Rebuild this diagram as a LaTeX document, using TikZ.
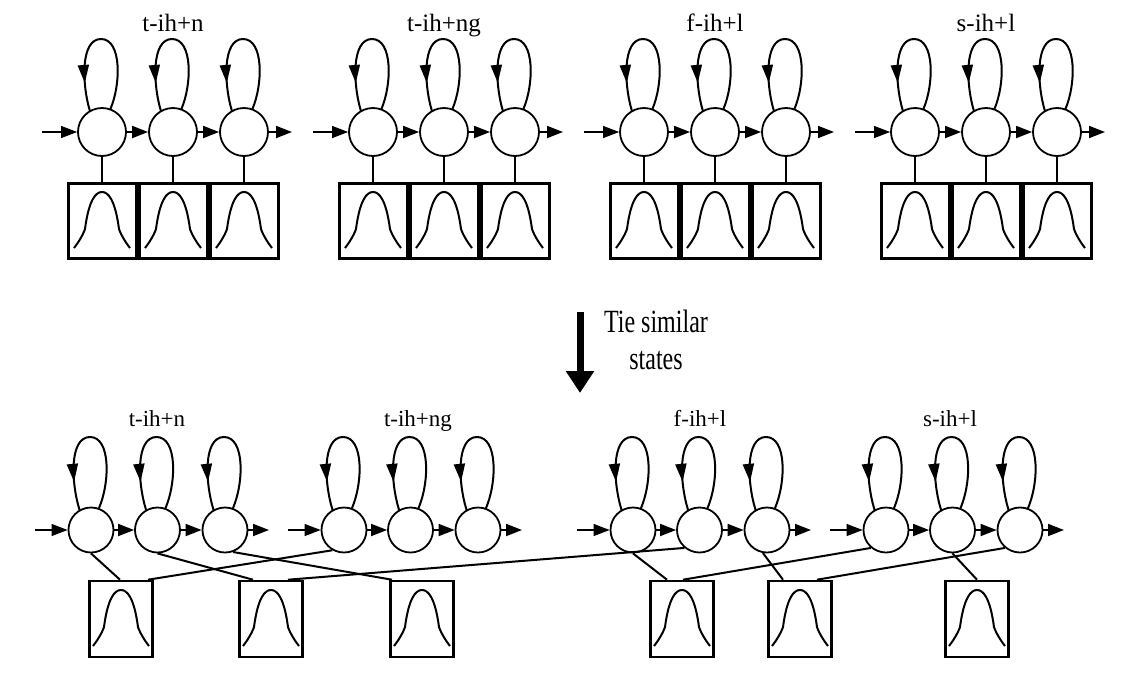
\documentclass[tikz,border=0pt]{standalone}
\usepackage{graphicx}
\usepackage{fontspec}
\setmainfont{Liberation Serif}
\usetikzlibrary{arrows.meta, decorations.markings}

\newcommand{\selfloop}[2]{%
  \draw[lp, shift={(#1.center)}] (70:#2) .. controls (19,47) and (20,93) .. (-1,93)
    .. controls (-22,93) and (-20,47) .. (120:#2);}
\newcommand{\bell}[1]{%
  \draw[bl, shift={(#1.center)}] (-28,-27) .. controls (-24,-22) and (-19,-14) .. (-17,-8)
    .. controls (-13,22) and (-6,29) .. (0,29) .. controls (6,29) and (13,22) .. (17,-8)
    .. controls (19,-14) and (24,-22) .. (28,-27);}

\begin{document}
\begin{tikzpicture}[x=1pt, y=1pt,
  st/.style={draw, circle, line width=1.8pt, minimum size=48pt, inner sep=0pt, fill=white},
  sts/.style={st, minimum size=45pt},
  bx/.style={draw, line width=3pt, minimum width=68pt, minimum height=75pt, inner sep=0pt},
  bxs/.style={bx, line width=2.6pt, minimum width=63pt, minimum height=76pt},
  arr/.style={-{Triangle[length=16pt, width=12pt]}, line width=1.8pt},
  inarr/.style={arr, line width=1.1pt},
  lp/.style={line width=2pt, postaction={decorate},
    decoration={markings, mark=at position 0.82 with {\arrow{Triangle[length=18pt, width=11pt]}}}},
  tie/.style={line width=2pt},
  bl/.style={line width=2pt, line join=round},
  lbl/.style={font=\fontsize{25}{30}\selectfont, anchor=base},
  lbls/.style={font=\fontsize{23}{28}\selectfont, anchor=base},
]
\useasboundingbox (0,0) rectangle (1144,-678);

% separate models
\foreach \g/\x/\lab in {1/102/t-ih+n, 2/373/t-ih+ng, 3/644/f-ih+l, 4/915/s-ih+l} {
  \node[lbl] (ul\g) at (\x+71,-31) {\lab};
  \foreach \i/\dx in {1/0, 2/71, 3/142} {
    \node[st] (u\g-\i) at (\x+\dx,-132) {};
    \node[bx] (ub\g-\i) at (\x+\dx,-221) {};
    \draw[tie] (u\g-\i) -- (ub\g-\i);
    \selfloop{u\g-\i}{24}
    \bell{ub\g-\i}
  }
  \coordinate (uin\g) at (\x-60,-132);
  \coordinate (uout\g) at (\x+190,-132);
  \draw[inarr] (uin\g) -- (u\g-1);
  \draw[arr] (u\g-1) -- (u\g-2);
  \draw[arr] (u\g-2) -- (u\g-3);
  \draw[arr] (u\g-3) -- (uout\g);
}

% big arrow
\coordinate (tiea) at (580,-312);
\coordinate (tieb) at (580,-393);
\draw[line width=7pt, -{Triangle[length=22pt, width=27pt]}] (tiea) -- (tieb);
\node (tietxt) at (656,-344) {\scalebox{1}[1.35]{\fontsize{24}{27.5}\selectfont
  \begin{tabular}{@{}c@{}}Tie similar\\states\end{tabular}}};

% tied models
\foreach \g/\x/\lx/\lab in {1/91/157/t-ih+n, 2/344/418/t-ih+ng, 3/633/700/f-ih+l, 4/886/950/s-ih+l} {
  \node[lbls] (ll\g) at (\lx,-426) {\lab};
  \foreach \i/\dx in {1/0, 2/66.5, 3/134} {
    \node[sts] (l\g-\i) at (\x+\dx,-530) {};
    \selfloop{l\g-\i}{22.5}
  }
  \coordinate (lin\g) at (\x-56,-530);
  \coordinate (lout\g) at (\x+178,-530);
  \draw[inarr] (lin\g) -- (l\g-1);
  \draw[arr] (l\g-1) -- (l\g-2);
  \draw[arr] (l\g-2) -- (l\g-3);
  \draw[arr] (l\g-3) -- (lout\g);
}

\foreach \b/\x in {1/121, 2/271, 3/422, 4/682, 5/800, 6/977} {
  \node[bxs] (b\b) at (\x,-619) {};
  \bell{b\b}
}

\draw[tie] (l1-1.south) -- ([xshift=-1pt]b1.north);
\draw[tie] ([xshift=27pt]b1.north) -- (l2-1.240);
\draw[tie] (l1-2.south) -- ([xshift=-18pt]b2.north);
\draw[tie] ([xshift=17pt]b2.north) -- (l3-2.230);
\draw[tie] (l1-3.290) -- ([xshift=-30pt]b3.north);
\draw[tie] (l3-1.south) -- ([xshift=-15pt]b4.north);
\draw[tie] ([xshift=1pt]b4.north) -- (l4-1.230);
\draw[tie] (l3-3.260) -- ([xshift=-17pt]b5.north);
\draw[tie] ([xshift=17pt]b5.north) -- (l4-3.230);
\draw[tie] (l4-2.south) -- (b6.north);
\end{tikzpicture}
\end{document}
